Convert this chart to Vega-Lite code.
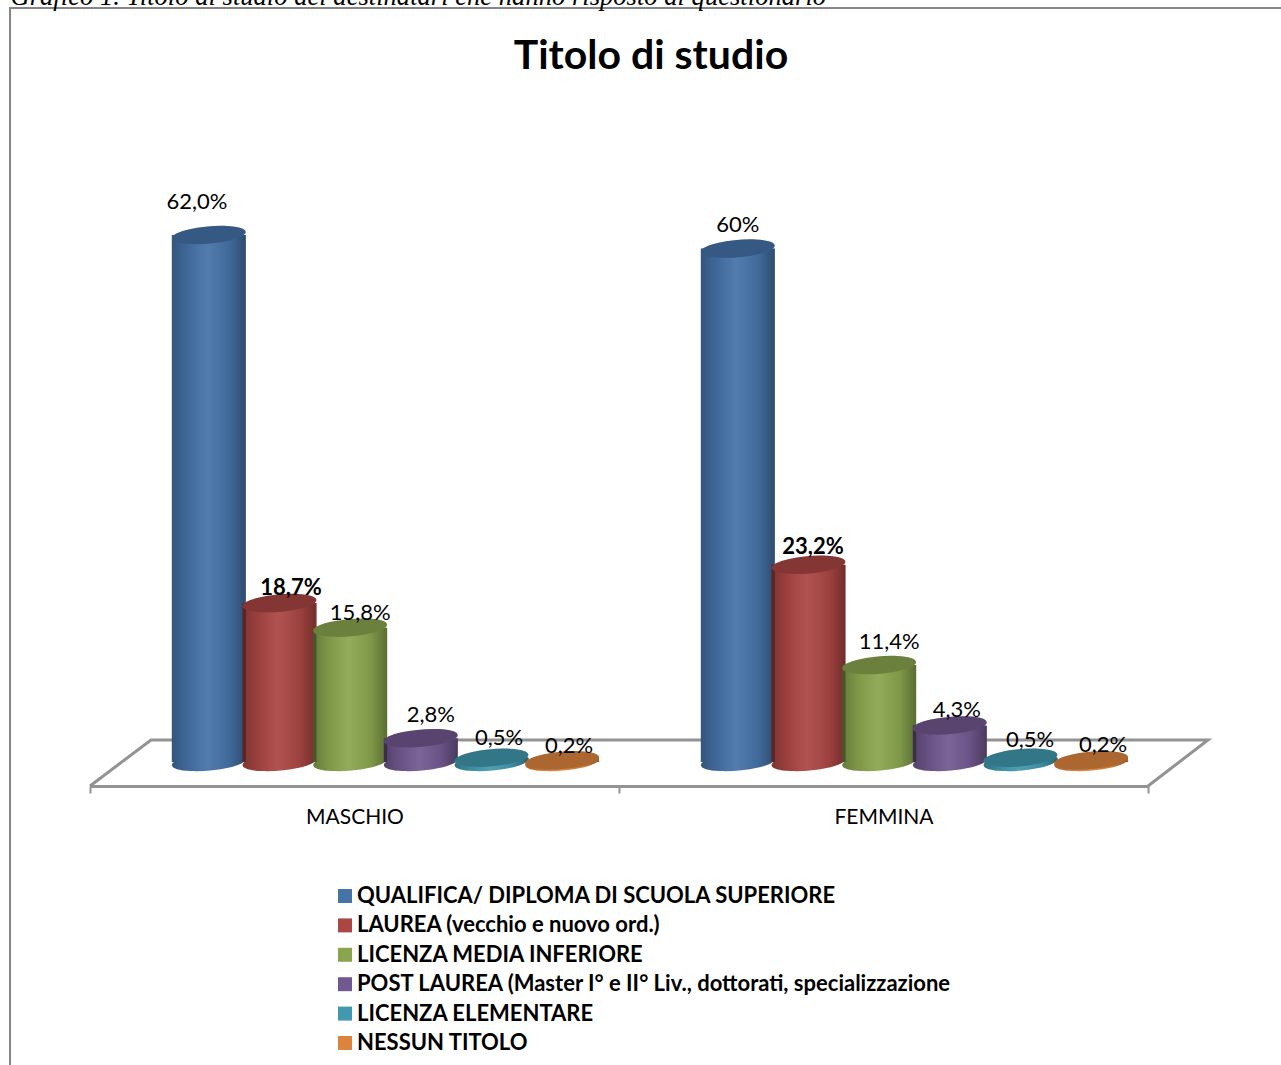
{
"$schema":"https://vega.github.io/schema/vega-lite/v6.json",
"width":1290,"height":1080,
"autosize":{"type":"none"},
"padding":{"left":10,"top":8,"right":0,"bottom":0},
"background":"white",
"view":{"stroke":"#868686","strokeWidth":2,"fill":"white"},
"title":{"text":"Titolo di studio","font":"Lato","fontSize":41,"fontWeight":"bold","color":"#000000","anchor":"middle","dx":-4,"offset":-95},
"config":{"font":"Lato"},
"datasets":{"righe":[
{"sesso":"MASCHIO","titolo":"QUALIFICA/ DIPLOMA DI SCUOLA SUPERIORE","valore":62.0,"etichetta":"62,0%"},
{"sesso":"MASCHIO","titolo":"LAUREA (vecchio e nuovo ord.)","valore":18.7,"etichetta":"18,7%"},
{"sesso":"MASCHIO","titolo":"LICENZA MEDIA INFERIORE","valore":15.8,"etichetta":"15,8%"},
{"sesso":"MASCHIO","titolo":"POST LAUREA (Master I° e II° Liv., dottorati, specializzazione","valore":2.8,"etichetta":"2,8%"},
{"sesso":"MASCHIO","titolo":"LICENZA ELEMENTARE","valore":0.5,"etichetta":"0,5%"},
{"sesso":"MASCHIO","titolo":"NESSUN TITOLO","valore":0.2,"etichetta":"0,2%"},
{"sesso":"FEMMINA","titolo":"QUALIFICA/ DIPLOMA DI SCUOLA SUPERIORE","valore":60.4,"etichetta":"60%"},
{"sesso":"FEMMINA","titolo":"LAUREA (vecchio e nuovo ord.)","valore":23.2,"etichetta":"23,2%"},
{"sesso":"FEMMINA","titolo":"LICENZA MEDIA INFERIORE","valore":11.4,"etichetta":"11,4%"},
{"sesso":"FEMMINA","titolo":"POST LAUREA (Master I° e II° Liv., dottorati, specializzazione","valore":4.3,"etichetta":"4,3%"},
{"sesso":"FEMMINA","titolo":"LICENZA ELEMENTARE","valore":0.5,"etichetta":"0,5%"},
{"sesso":"FEMMINA","titolo":"NESSUN TITOLO","valore":0.2,"etichetta":"0,2%"}
],
"pavimento":[{"i":1,"fx":0,"fy":-2.82},{"i":2,"fx":61,"fy":2.59},{"i":3,"fx":1118,"fy":2.59},{"i":4,"fx":1058,"fy":-2.82}]},
"resolve":{"scale":{"x":"independent"},"axis":{"x":"independent"}},
"layer":[
{"data":{"name":"pavimento"},
 "mark":{"type":"line","color":"#939393","strokeWidth":3,"clip":false},
 "encoding":{
  "x":{"field":"fx","type":"quantitative","axis":null,"scale":{"domain":[0,1058],"range":[80,1138],"nice":false,"zero":false}},
  "y":{"field":"fy","type":"quantitative","scale":{"domain":[0,62],"range":[754,227],"nice":false},
   "axis":{"title":"Grafico 1. Titolo di studio dei destinatari che hanno risposto al questionario","titleFont":"Liberation Serif","titleFontStyle":"italic","titleFontWeight":"normal","titleFontSize":26.6,"titleColor":"#000000","titleAngle":0,"titleAlign":"left","titleBaseline":"alphabetic","titleX":0,"titleY":-4,"domain":false,"ticks":false,"labels":false,"grid":false}},
  "order":{"field":"i","type":"ordinal"}}},
{"data":{"name":"righe"},
 "encoding":{
  "x":{"field":"sesso","type":"nominal","sort":["MASCHIO","FEMMINA"],"scale":{"domain":["MASCHIO","FEMMINA"],"range":[80,1138],"paddingInner":0,"paddingOuter":0},
   "axis":{"title":null,"orient":"bottom","offset":-302,"labelAngle":0,"labelFont":"Lato","labelFontSize":21,"labelColor":"#000000","labelPadding":13,"domainColor":"#939393","domainWidth":3,"tickColor":"#939393","tickWidth":2,"tickSize":7,"tickBand":"extent","grid":false}},
  "xOffset":{"field":"titolo","type":"nominal","scale":{"domain":["QUALIFICA/ DIPLOMA DI SCUOLA SUPERIORE","LAUREA (vecchio e nuovo ord.)","LICENZA MEDIA INFERIORE","POST LAUREA (Master I° e II° Liv., dottorati, specializzazione","LICENZA ELEMENTARE","NESSUN TITOLO"],"range":[83.5,507.5],"paddingInner":0,"paddingOuter":0}},
  "y":{"field":"valore","type":"quantitative","scale":{"domain":[0,62],"range":[754,227],"nice":false}}
 },
 "layer":[
  {"mark":{"type":"point","filled":true,"opacity":1,"size":5476,"shape":"M-0.996 0.087A1 0.23 -5 1 1 0.996 -0.087A1 0.23 -5 1 1 -0.996 0.087Z"},
   "encoding":{"y":{"datum":0,"type":"quantitative"},
    "color":{"field":"titolo","type":"nominal","scale":{"domain":["QUALIFICA/ DIPLOMA DI SCUOLA SUPERIORE","LAUREA (vecchio e nuovo ord.)","LICENZA MEDIA INFERIORE","POST LAUREA (Master I° e II° Liv., dottorati, specializzazione","LICENZA ELEMENTARE","NESSUN TITOLO"],"range":["#4572A7","#AA4643","#89A54E","#71588F","#4198AF","#DB843D"]},
     "legend":{"orient":"none","legendX":324,"legendY":877,"title":null,"padding":0,"symbolType":"square","symbolSize":196,"symbolStrokeWidth":0,"symbolOpacity":1,"labelFont":"Lato","labelFontSize":22,"labelFontWeight":"bold","labelColor":"#000000","labelLimit":800,"rowPadding":7.4,"symbolOffset":0,"labelOffset":1}}}},
  {"mark":{"type":"point","filled":true,"opacity":1,"size":5476,"shape":"M-0.996 0.087A1 0.23 -5 1 1 0.996 -0.087A1 0.23 -5 1 1 -0.996 0.087Z","color":{"gradient":"linear","x1":0,"x2":1,"y1":0,"y2":0,"stops":[{"offset":0,"color":"rgba(0,0,0,0.26)"},{"offset":0.22,"color":"rgba(0,0,0,0.08)"},{"offset":0.48,"color":"rgba(255,255,255,0.07)"},{"offset":0.78,"color":"rgba(0,0,0,0.08)"},{"offset":1,"color":"rgba(0,0,0,0.34)"}]}},
   "encoding":{"y":{"datum":0,"type":"quantitative"}}},
  {"mark":{"type":"bar","width":74},
   "encoding":{"color":{"field":"titolo","type":"nominal"}}},
  {"mark":{"type":"bar","width":74,"color":{"gradient":"linear","x1":0,"x2":1,"y1":0,"y2":0,"stops":[{"offset":0,"color":"rgba(0,0,0,0.26)"},{"offset":0.22,"color":"rgba(0,0,0,0.08)"},{"offset":0.48,"color":"rgba(255,255,255,0.07)"},{"offset":0.78,"color":"rgba(0,0,0,0.08)"},{"offset":1,"color":"rgba(0,0,0,0.34)"}]}}},
  {"mark":{"type":"point","filled":true,"opacity":1,"size":5476,"shape":"M-0.996 0.087A1 0.23 -5 1 1 0.996 -0.087A1 0.23 -5 1 1 -0.996 0.087Z"},
   "encoding":{"color":{"field":"titolo","type":"nominal"}}},
  {"mark":{"type":"point","filled":true,"opacity":0.22,"color":"#000000","size":5476,"shape":"M-0.996 0.087A1 0.23 -5 1 1 0.996 -0.087A1 0.23 -5 1 1 -0.996 0.087Z"}},
  {"transform":[{"filter":"datum.sesso=='MASCHIO'&&datum.valore==62"}],"mark":{"type":"text","font":"Lato","fontSize":22,"color":"#000000","dx":-12,"dy":-33},"encoding":{"text":{"field":"etichetta"}}},
  {"transform":[{"filter":"datum.sesso=='MASCHIO'&&datum.valore==18.7"}],"mark":{"type":"text","font":"Lato","fontSize":22,"fontWeight":"bold","color":"#000000","dx":11.5,"dy":-15},"encoding":{"text":{"field":"etichetta"}}},
  {"transform":[{"filter":"datum.sesso=='MASCHIO'&&datum.valore==15.8"}],"mark":{"type":"text","font":"Lato","fontSize":22,"color":"#000000","dx":10,"dy":-15},"encoding":{"text":{"field":"etichetta"}}},
  {"transform":[{"filter":"datum.sesso=='MASCHIO'&&datum.valore==2.8"}],"mark":{"type":"text","font":"Lato","fontSize":22,"color":"#000000","dx":10,"dy":-23},"encoding":{"text":{"field":"etichetta"}}},
  {"transform":[{"filter":"datum.sesso=='MASCHIO'&&datum.valore==0.5"}],"mark":{"type":"text","font":"Lato","fontSize":22,"color":"#000000","dx":7.5,"dy":-20},"encoding":{"text":{"field":"etichetta"}}},
  {"transform":[{"filter":"datum.sesso=='MASCHIO'&&datum.valore==0.2"}],"mark":{"type":"text","font":"Lato","fontSize":22,"color":"#000000","dx":7,"dy":-14},"encoding":{"text":{"field":"etichetta"}}},
  {"transform":[{"filter":"datum.sesso=='FEMMINA'&&datum.valore==60.4"}],"mark":{"type":"text","font":"Lato","fontSize":22,"color":"#000000","dx":0,"dy":-24},"encoding":{"text":{"field":"etichetta"}}},
  {"transform":[{"filter":"datum.sesso=='FEMMINA'&&datum.valore==23.2"}],"mark":{"type":"text","font":"Lato","fontSize":22,"fontWeight":"bold","color":"#000000","dx":4.5,"dy":-18},"encoding":{"text":{"field":"etichetta"}}},
  {"transform":[{"filter":"datum.sesso=='FEMMINA'&&datum.valore==11.4"}],"mark":{"type":"text","font":"Lato","fontSize":22,"color":"#000000","dx":10,"dy":-23},"encoding":{"text":{"field":"etichetta"}}},
  {"transform":[{"filter":"datum.sesso=='FEMMINA'&&datum.valore==4.3"}],"mark":{"type":"text","font":"Lato","fontSize":22,"color":"#000000","dx":7,"dy":-15.5},"encoding":{"text":{"field":"etichetta"}}},
  {"transform":[{"filter":"datum.sesso=='FEMMINA'&&datum.valore==0.5"}],"mark":{"type":"text","font":"Lato","fontSize":22,"color":"#000000","dx":9.5,"dy":-18},"encoding":{"text":{"field":"etichetta"}}},
  {"transform":[{"filter":"datum.sesso=='FEMMINA'&&datum.valore==0.2"}],"mark":{"type":"text","font":"Lato","fontSize":22,"color":"#000000","dx":12,"dy":-15},"encoding":{"text":{"field":"etichetta"}}}
 ]}
]}
